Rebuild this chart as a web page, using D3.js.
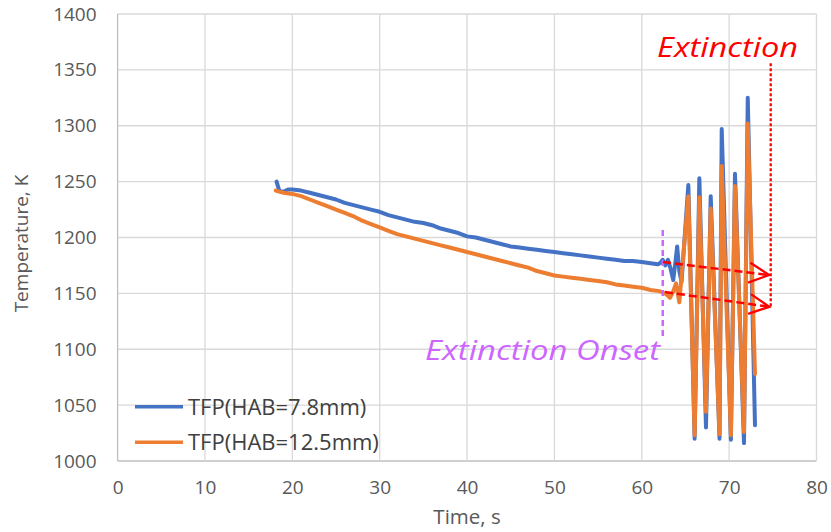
<!DOCTYPE html>
<html>
<head>
<meta charset="utf-8">
<script src="https://cdn.jsdelivr.net/npm/d3@7"></script>
<style>
  html, body { margin: 0; padding: 0; background: #ffffff; }
  svg { display: block; font-family: "Open Sans", "Liberation Sans", sans-serif; }
</style>
</head>
<body>
<svg id="chart" width="831" height="532"></svg>
<script>
// ---------------- DATA ----------------
const xTicks = [0, 10, 20, 30, 40, 50, 60, 70, 80];
const yTicks = [1000, 1050, 1100, 1150, 1200, 1250, 1300, 1350, 1400];

const seriesNames = ["TFP(HAB=7.8mm)", "TFP(HAB=12.5mm)"];

// TFP(HAB=7.8mm) : time (s)
const blueTime = [18.2, 18.5, 19, 19.5, 20, 21, 22, 23, 24, 25, 26, 27, 28, 29, 30,
  31, 32, 33, 34, 35, 36, 37, 38, 39, 40, 41, 42, 43, 44, 45, 46, 47, 48, 49, 50,
  51, 52, 53, 54, 55, 56, 57, 58, 59, 60, 61, 61.8, 62.1, 62.4, 62.7, 63.0, 63.3, 63.6,
  63.85, 64.05, 64.3, 64.55, 65.33, 66.05, 66.59, 67.35, 67.89, 68.9, 69.15, 70.2, 70.67,
  71.7, 72.13, 72.96];
// TFP(HAB=7.8mm) : temperature (K)
const blueTemp = [1250, 1242, 1241, 1243, 1243, 1242, 1240, 1238, 1236, 1234, 1231, 1229, 1227, 1225, 1223,
  1220, 1218, 1216, 1214, 1213, 1211, 1208, 1206, 1204, 1201, 1200, 1198, 1196, 1194, 1192, 1191, 1190, 1189, 1188, 1187,
  1186, 1185, 1184, 1183, 1182, 1181, 1180, 1179, 1179, 1178, 1177, 1176, 1177, 1180, 1175, 1180, 1172, 1162,
  1178, 1192, 1170, 1160, 1247, 1020, 1253, 1030, 1237, 1020, 1297, 1019, 1257,
  1016, 1325, 1032];

// TFP(HAB=12.5mm) : time (s)
const orangeTime = [18.1, 18.5, 19, 20, 21, 22, 23, 24, 25, 26, 27, 28, 29, 30,
  31, 32, 33, 34, 35, 36, 37, 38, 39, 40, 41, 42, 43, 44, 45, 46, 47, 48, 49, 50,
  51, 52, 53, 54, 55, 56, 57, 58, 59, 60, 61, 62, 62.4, 62.85, 63.23, 63.61, 63.92, 64.3,
  65.33, 66.05, 66.59, 67.35, 67.89, 68.9, 69.15, 70.2, 70.67, 71.7, 72.13, 72.96];
// TFP(HAB=12.5mm) : temperature (K)
const orangeTemp = [1242, 1241, 1240, 1239, 1237, 1234, 1231, 1228, 1225, 1222, 1219, 1215, 1212, 1209,
  1206, 1203, 1201, 1199, 1197, 1195, 1193, 1191, 1189, 1187, 1185, 1183, 1181, 1179, 1177, 1175, 1173, 1170, 1168, 1166,
  1165, 1164, 1163, 1162, 1161, 1160, 1158, 1157, 1156, 1155, 1153, 1152, 1151, 1149, 1146, 1152, 1159, 1142,
  1237, 1023, 1236, 1044, 1226, 1024, 1264, 1023, 1246, 1026, 1302, 1078];

// Annotations (data units)
const extinctionLine = { t: 74.76, from: 1356, to: 1138 };
const arrowStarts = [[62.43, 1178], [62.66, 1151.2]];
const arrowEnds = [[74.57, 1166.4], [74.6, 1138]];
const onsetLine = { t: 62.4, from: 1206.7, to: 1110 };
const extinctionLabel = { text: "Extinction", t: 61.75, T: 1361.3 };
const onsetLabel = { text: "Extinction Onset", t: 62.09, T: 1090.4 };

// ---------------- CHART ----------------
const svg = d3.select("#chart");
const x = d3.scaleLinear().domain([0, 80]).range([117.6, 816.5]);
const y = d3.scaleLinear().domain([1000, 1400]).range([461, 14]);

const colors = ["#4472C4", "#ED7D31"];
const gridColor = "#d9d9d9";
const textColor = "#595959";

// gridlines
const grid = svg.append("g");
grid.selectAll("line.h").data(yTicks).join("line")
  .attr("x1", x(0)).attr("x2", x(80))
  .attr("y1", d => y(d)).attr("y2", d => y(d))
  .attr("stroke", d => d === 1000 ? "#bfbfbf" : gridColor).attr("stroke-width", 1.3);
grid.selectAll("line.v").data(xTicks).join("line")
  .attr("y1", y(1000)).attr("y2", y(1400))
  .attr("x1", d => x(d)).attr("x2", d => x(d))
  .attr("stroke", d => d === 0 ? "#bfbfbf" : gridColor).attr("stroke-width", 1.3);

// axes
const yAxis = svg.append("g").attr("transform", `translate(${x(0)},0)`)
  .call(d3.axisLeft(y).tickValues(yTicks).tickSize(0).tickPadding(21).tickFormat(d3.format("d")));
yAxis.select(".domain").remove();
yAxis.selectAll("text").attr("font-size", 19).attr("fill", textColor)
  .style("font-family", "'Open Sans', sans-serif");

const xAxis = svg.append("g").attr("transform", `translate(0,${y(1000)})`)
  .call(d3.axisBottom(x).tickValues(xTicks).tickSize(0).tickPadding(20).tickFormat(d3.format("d")));
xAxis.select(".domain").remove();
xAxis.selectAll("text").attr("font-size", 19).attr("fill", textColor)
  .style("font-family", "'Open Sans', sans-serif");

// axis titles
svg.append("text").attr("x", (x(0) + x(80)) / 2).attr("y", 524)
  .attr("text-anchor", "middle").attr("font-size", 20.5).attr("fill", textColor)
  .text("Time, s");
svg.append("text").attr("transform", `translate(28,${(y(1000) + y(1400)) / 2 + 6}) rotate(-90)`)
  .attr("text-anchor", "middle").attr("font-size", 19).attr("fill", textColor)
  .text("Temperature, K");

// series
const line = d3.line().x(d => x(d[0])).y(d => y(d[1]));
const blueData = blueTime.map((t, i) => [t, blueTemp[i]]);
const orangeData = orangeTime.map((t, i) => [t, orangeTemp[i]]);
[blueData, orangeData].forEach((data, i) => {
  svg.append("path").datum(data)
    .attr("d", line)
    .attr("fill", "none")
    .attr("stroke", colors[i])
    .attr("stroke-width", 4)
    .attr("stroke-linejoin", "round")
    .attr("stroke-linecap", "round");
});

// onset purple dashed line
const purple = "#CC66FF";
svg.append("line")
  .attr("x1", x(onsetLine.t)).attr("x2", x(onsetLine.t))
  .attr("y1", y(onsetLine.from)).attr("y2", y(onsetLine.to))
  .attr("stroke", purple).attr("stroke-width", 2.5).attr("stroke-dasharray", "6,4");

// extinction red dotted line
const red = "#FF0000";
svg.append("line")
  .attr("x1", x(extinctionLine.t)).attr("x2", x(extinctionLine.t))
  .attr("y1", y(extinctionLine.from)).attr("y2", y(extinctionLine.to))
  .attr("stroke", red).attr("stroke-width", 2.3).attr("stroke-dasharray", "3,2");

// dashed arrows with open chevrons
arrowStarts.forEach((s, i) => {
  const e = arrowEnds[i];
  const x1 = x(s[0]), y1 = y(s[1]), x2 = x(e[0]), y2 = y(e[1]);
  svg.append("line").attr("x1", x1).attr("y1", y1).attr("x2", x2).attr("y2", y2)
    .attr("stroke", red).attr("stroke-width", 2.5).attr("stroke-dasharray", "8,4");
  const ang = Math.atan2(y2 - y1, x2 - x1);
  const L = 20, W = 10;
  const bx = x2 - L * Math.cos(ang), by = y2 - L * Math.sin(ang);
  const px = -Math.sin(ang) * W, py = Math.cos(ang) * W;
  svg.append("path")
    .attr("d", `M${bx + px},${by + py}L${x2},${y2}L${bx - px},${by - py}`)
    .attr("fill", "none").attr("stroke", red).attr("stroke-width", 2.3);
});

// annotation labels
svg.append("text").attr("x", x(extinctionLabel.t)).attr("y", y(extinctionLabel.T))
  .attr("font-size", 28).attr("font-style", "italic").attr("fill", red)
  .attr("textLength", 141).attr("lengthAdjust", "spacingAndGlyphs")
  .text(extinctionLabel.text);
svg.append("text").attr("x", x(onsetLabel.t)).attr("y", y(onsetLabel.T))
  .attr("text-anchor", "end")
  .attr("font-size", 28).attr("font-style", "italic").attr("fill", purple)
  .attr("textLength", 235).attr("lengthAdjust", "spacingAndGlyphs")
  .text(onsetLabel.text);

// legend
const legend = svg.append("g");
const legY = [406.7, 442.3];
seriesNames.forEach((name, i) => {
  legend.append("line").attr("x1", 135).attr("x2", 183).attr("y1", legY[i]).attr("y2", legY[i])
    .attr("stroke", colors[i]).attr("stroke-width", 3.4);
  legend.append("text").attr("x", 188).attr("y", legY[i]).attr("dy", "0.36em")
    .attr("font-size", 22).attr("fill", "#404040").text(name);
});
</script>
</body>
</html>
